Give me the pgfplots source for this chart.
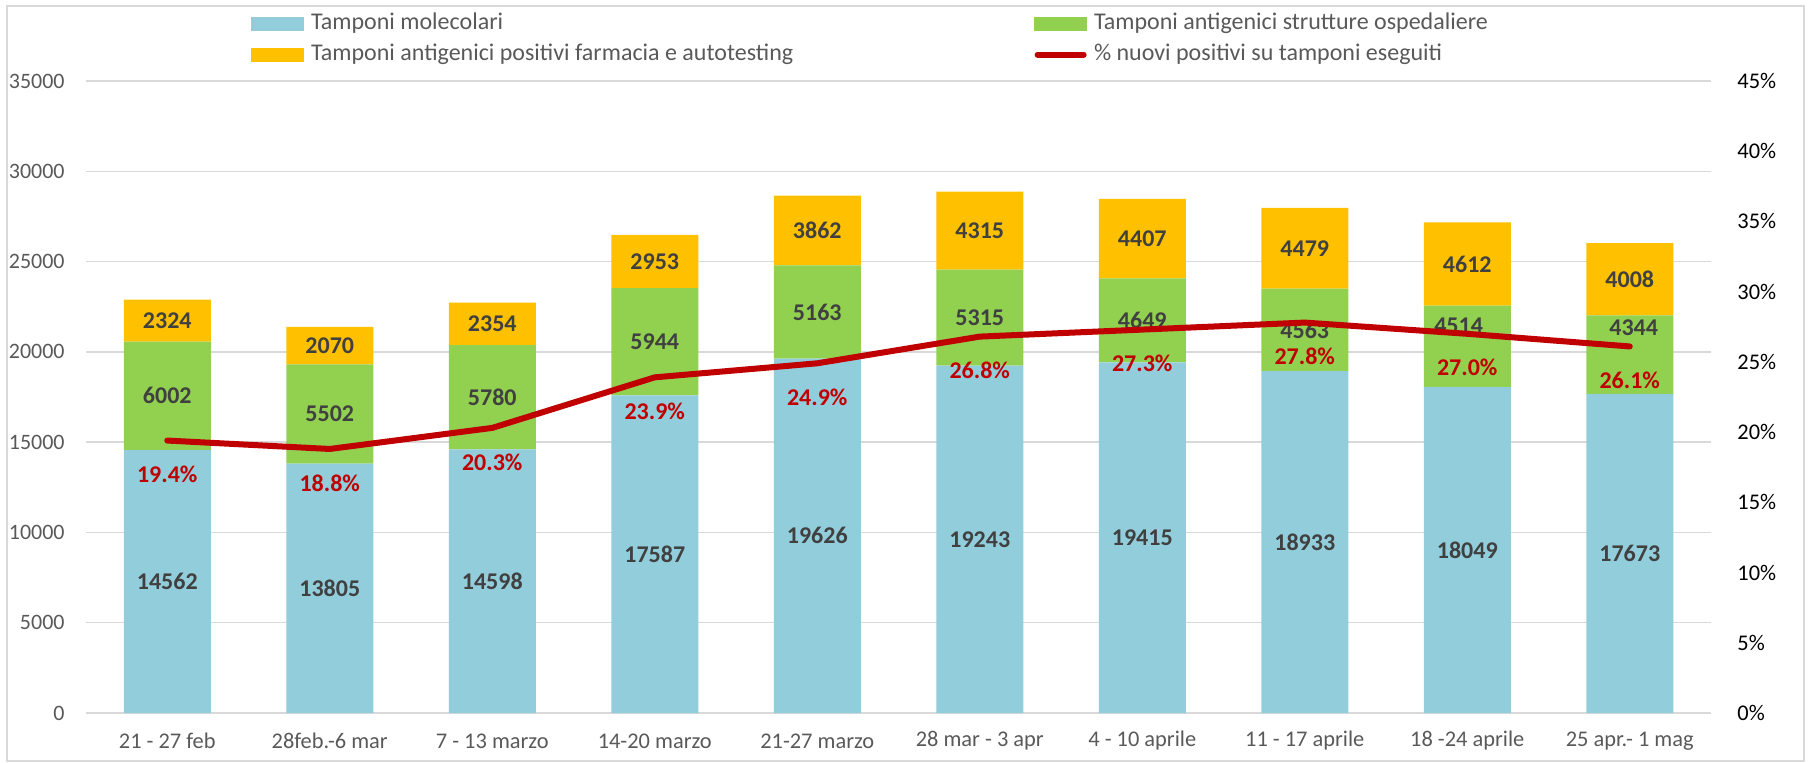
\documentclass[border=0pt]{standalone}
\usepackage{pgfplots}
\pgfplotsset{compat=1.18}
\usepackage{pgfplotstable}
\usepackage{fontspec}
\setmainfont{Carlito}
\definecolor{cblue}{HTML}{92CDDC}
\definecolor{cgreen}{HTML}{92D050}
\definecolor{corange}{HTML}{FFC000}
\definecolor{cred}{HTML}{C00000}
\definecolor{cgrid}{HTML}{D9D9D9}
\definecolor{ctext}{HTML}{595959}
\definecolor{clab}{HTML}{404040}

\pgfplotstableread{
x b g o p gy gx
0 14562 6002 2324 19.4 17563 0
1 13805 5502 2070 18.8 16556 1
2 14598 5780 2354 20.3 17488 2
3 17587 5944 2953 23.9 20559 3
4 19626 5163 3862 24.9 22207 4
5 19243 5315 4315 26.8 21900 5
6 19415 4649 4407 27.3 21740 6
7 18933 4563 4479 27.8 21214 7
8 18049 4514 4612 27.0 21449 7.947
9 17673 4344 4008 26.1 21321 9.024
}\data

\pgfplotsset{
  base/.style={
    scale only axis, width=812.5pt, height=316pt,
    at={(43pt,24.5pt)}, anchor=south west,
    xmin=-0.5, xmax=9.5,
    major tick length=0pt,
  },
  barlab/.style={
    draw=none, mark=none, forget plot,
    nodes near coords, point meta=explicit symbolic,
    every node near coord/.style={anchor=center, inner sep=0pt,
      font=\fontsize{12}{14}\selectfont\bfseries, text=clab},
  },
}
\begin{document}
\begin{tikzpicture}
\useasboundingbox (0,0) rectangle (906pt,381pt);
\draw[cgrid, line width=0.75pt] (3.5pt,0.5pt) rectangle (902pt,378pt);

% bars
\begin{axis}[base, ybar stacked, bar width=43.5pt,
  ymin=0, ymax=35000, ytick={0,5000,...,35000},
  scaled y ticks=false,
  axis line style={draw=none},
  ymajorgrids, grid style={cgrid, line width=0.75pt},
  xtick={0,...,9},
  xticklabels={{21 - 27 feb},{28feb.-6 mar},{7 - 13 marzo},{14-20 marzo},{21-27 marzo},{28 mar - 3 apr},{4 - 10 aprile},{11 - 17 aprile},{18 -24 aprile},{25 apr.- 1 mag}},
  xticklabel style={anchor=center, inner sep=0pt, yshift=-14pt, font=\fontsize{11.2}{13}\selectfont, text=ctext},
  yticklabel={\pgfmathprintnumber[fixed, 1000 sep={}, assume math mode=true]{\tick}},
  yticklabel style={anchor=east, inner sep=0pt, xshift=-10.5pt, font=\fontsize{11}{13}\selectfont, text=ctext},
]
\addplot[fill=cblue, draw=none] table[x=x, y=b] {\data};
\addplot[fill=cgreen, draw=none] table[x=x, y=g] {\data};
\addplot[fill=corange, draw=none] table[x=x, y=o] {\data};
\end{axis}

% bar labels
\begin{axis}[base, ymin=0, ymax=35000, hide axis, clip=false]
\addplot[barlab] table[x=x, y expr=\thisrow{b}/2, meta=b] {\data};
\addplot[barlab] table[x=gx, y=gy, meta=g] {\data};
\addplot[barlab] table[x=x, y expr=\thisrow{b}+\thisrow{g}+\thisrow{o}/2, meta=o] {\data};
\end{axis}

% percentage line
\begin{axis}[base, ymin=0, ymax=45, ytick={0,5,...,45},
  axis y line*=right, axis x line=none,
  y axis line style={draw=none},
  clip=false,
  yticklabel={\pgfmathprintnumber[assume math mode=true]{\tick}\%},
  yticklabel style={anchor=west, inner sep=0pt, xshift=13pt, font=\fontsize{11.2}{13}\selectfont, text=black},
  legend columns=2,
  legend cell align=left,
  legend style={at={(0.1015,1)}, anchor=south west, yshift=7.5pt,
    draw=none, fill=none, inner sep=0pt,
    font=\fontsize{12}{14}\selectfont, text=ctext,
    nodes={inner xsep=0pt, inner ysep=0pt, text height=8.5pt, text depth=2.5pt},
    row sep=4.5pt,
    /tikz/every odd column/.append style={column sep=3.5pt},
    /tikz/column 2/.style={column sep=120.5pt}},
]
\addlegendimage{legend image code/.code={\fill[cblue] (0pt,-3.25pt) rectangle (26pt,3.25pt);}}
\addlegendimage{legend image code/.code={\fill[cgreen] (0pt,-3.25pt) rectangle (26pt,3.25pt);}}
\addlegendimage{legend image code/.code={\fill[corange] (0pt,-3.25pt) rectangle (26pt,3.25pt);}}
\addlegendimage{legend image code/.code={\draw[cred, line width=3pt, line cap=round] (1.5pt,0pt) -- (24.5pt,0pt);}}
\addplot[cred, line width=3pt, line join=round, line cap=round, mark=none, forget plot,
  nodes near coords={\pgfmathprintnumber[fixed, fixed zerofill, precision=1, assume math mode=true]{\pgfplotspointmeta}\%},
  point meta=y,
  every node near coord/.style={anchor=center, yshift=-17pt, inner sep=0pt,
    font=\fontsize{12}{14}\selectfont\bfseries, text=cred}]
  table[x=x, y=p] {\data};
\legend{Tamponi molecolari, Tamponi antigenici strutture ospedaliere, Tamponi antigenici positivi farmacia e autotesting, \% nuovi positivi su tamponi eseguiti}
\end{axis}
\end{tikzpicture}
\end{document}
